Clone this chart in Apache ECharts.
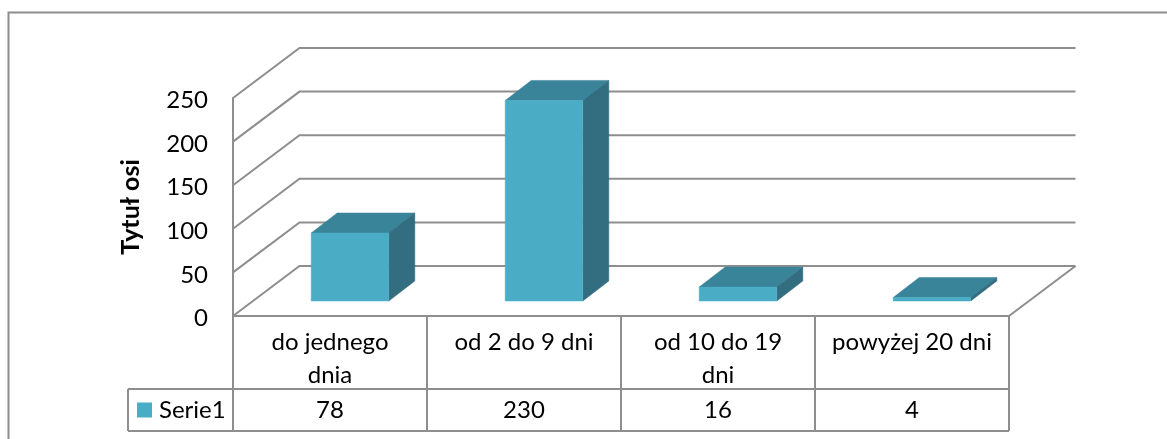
<!DOCTYPE html>
<html>
<head>
<meta charset="utf-8">
<style>html,body{margin:0;padding:0;background:#fff}#c{width:1167px;height:439px}</style>
<script src="https://cdn.jsdelivr.net/npm/echarts@6/dist/echarts.min.js"></script>
</head>
<body>
<div id="c"></div>
<script>
// Chart content
const seriesName = 'Serie1';
const categories = ['do jednego\ndnia', 'od 2 do 9 dni', 'od 10 do 19\ndni', 'powyżej 20 dni'];
const values = [78, 230, 16, 4];
const yTicks = [0, 50, 100, 150, 200, 250];
const axisTitle = 'Tytuł osi';

// Oblique projection of the 3D box
const WALL_DX = 66.5, WALL_DY = -50;    // floor depth, front edge to back wall
const BAR_DX = 26, BAR_DY = -20;        // depth of one column
const BAR_SHIFT_X = 20, BAR_SHIFT_Y = -15; // column front face, relative to the front plane
const BAR_RATIO = 0.4;

// Data table under the plot
const ROW_1 = 389, ROW_2 = 431, TABLE_LEFT = 128;

const FONT = 'Lato, "Open Sans", sans-serif';
const LINE = '#8e8e8e';
const FRONT = '#4bacc6', TOP = '#3a8499', SIDE = '#326d80';

const chart = echarts.init(document.getElementById('c'), null, {renderer: 'canvas'});

function line(points, width) {
  return {type: 'polyline', shape: {points}, style: {fill: null, stroke: LINE, lineWidth: width || 2}};
}

function renderWall(params, api) {
  const cs = params.coordSys;
  const y = api.coord([0, api.value(0)])[1];
  const left = cs.x, right = cs.x + cs.width;
  const children = [line([[left, y], [left + WALL_DX, y + WALL_DY], [right + WALL_DX, y + WALL_DY]])];
  if (api.value(0) === 0) {
    children.push(line([[right, y], [right + WALL_DX, y + WALL_DY]]));
  }
  return {type: 'group', children};
}

function renderBar(params, api) {
  const top = api.coord([api.value(0), api.value(1)]);
  const base = api.coord([api.value(0), 0]);
  const w = api.size([1, 0])[0] * BAR_RATIO;
  const l = top[0] - w / 2 + BAR_SHIFT_X, r = l + w;
  const t = top[1] + BAR_SHIFT_Y, b = base[1] + BAR_SHIFT_Y;
  const poly = (points, fill) => ({type: 'polygon', shape: {points}, style: {fill, stroke: fill, lineWidth: 0.5}});
  return {type: 'group', children: [
    poly([[l, t], [l + BAR_DX, t + BAR_DY], [r + BAR_DX, t + BAR_DY], [r, t]], TOP),
    poly([[r, t], [r + BAR_DX, t + BAR_DY], [r + BAR_DX, b + BAR_DY], [r, b]], SIDE),
    poly([[l, t], [r, t], [r, b], [l, b]], FRONT)
  ]};
}

function renderTable(params, api) {
  const cs = params.coordSys;
  const i = api.value(0);
  const band = api.size([1, 0])[0];
  const cx = api.coord([i, 0])[0];
  const y0 = cs.y + cs.height;
  const children = [
    line([[cx - band / 2, y0], [cx - band / 2, ROW_2]]),
    {type: 'text', style: {
      x: cx, y: (ROW_1 + ROW_2) / 2, text: String(api.value(1)),
      font: '24px ' + FONT, fill: '#000', align: 'center', verticalAlign: 'middle'
    }}
  ];
  if (i === categories.length - 1) {
    children.push(line([[cx + band / 2, y0], [cx + band / 2, ROW_2]]));
  }
  if (i === 0) {
    const right = cs.x + cs.width;
    children.push(
      line([[TABLE_LEFT, ROW_1], [right, ROW_1]]),
      line([[TABLE_LEFT, ROW_2], [right, ROW_2]]),
      line([[TABLE_LEFT, ROW_1], [TABLE_LEFT, ROW_2]])
    );
  }
  return {type: 'group', children};
}

chart.setOption({
  animation: false,
  backgroundColor: '#fff',
  textStyle: {fontFamily: FONT},
  graphic: [{
    type: 'rect', z: 0,
    shape: {x: 8.5, y: 12.5, width: 1600, height: 900},
    style: {fill: null, stroke: LINE, lineWidth: 2}
  }],
  grid: {left: 233, right: 158, top: 98, bottom: 123, containLabel: false},
  legend: {
    data: [{name: seriesName, icon: 'rect'}],
    left: 137, top: 398, padding: 0, itemWidth: 15, itemHeight: 15, itemGap: 0,
    selectedMode: false,
    textStyle: {fontSize: 24, fontFamily: FONT, color: '#000', padding: [0, 0, 0, 2]}
  },
  xAxis: {
    type: 'category',
    data: categories,
    axisLine: {show: true, lineStyle: {color: LINE, width: 2}},
    axisTick: {show: false},
    splitLine: {show: false},
    axisLabel: {
      interval: 0, fontSize: 24, lineHeight: 33, color: '#000',
      fontFamily: FONT, margin: 10, verticalAlign: 'top'
    }
  },
  yAxis: {
    type: 'value', min: 0, max: 250, interval: 50,
    name: axisTitle, nameLocation: 'middle', nameGap: 90, nameRotate: 90,
    nameTextStyle: {fontSize: 25, fontWeight: 'bold', color: '#000', fontFamily: FONT},
    axisLine: {show: true, lineStyle: {color: LINE, width: 2}},
    axisTick: {show: false},
    splitLine: {show: false},
    axisLabel: {
      margin: 25,
      formatter: '{tick|{value}}',
      rich: {tick: {fontSize: 24, color: '#000', fontFamily: FONT, padding: [5, 0, 0, 0]}}
    }
  },
  series: [
    {type: 'custom', name: 'walls', silent: true, clip: false, z: 1,
     coordinateSystem: 'cartesian2d', renderItem: renderWall,
     data: yTicks.map(v => [v]), encode: {y: 0}},
    {type: 'custom', name: seriesName, silent: true, clip: false, z: 3,
     coordinateSystem: 'cartesian2d', renderItem: renderBar,
     itemStyle: {color: FRONT},
     data: values.map((v, i) => [i, v]), encode: {x: 0, y: 1}},
    {type: 'custom', name: 'table', silent: true, clip: false, z: 4,
     coordinateSystem: 'cartesian2d', renderItem: renderTable,
     data: values.map((v, i) => [i, v]), encode: {x: 0, y: 1}}
  ]
});
</script>
</body>
</html>
